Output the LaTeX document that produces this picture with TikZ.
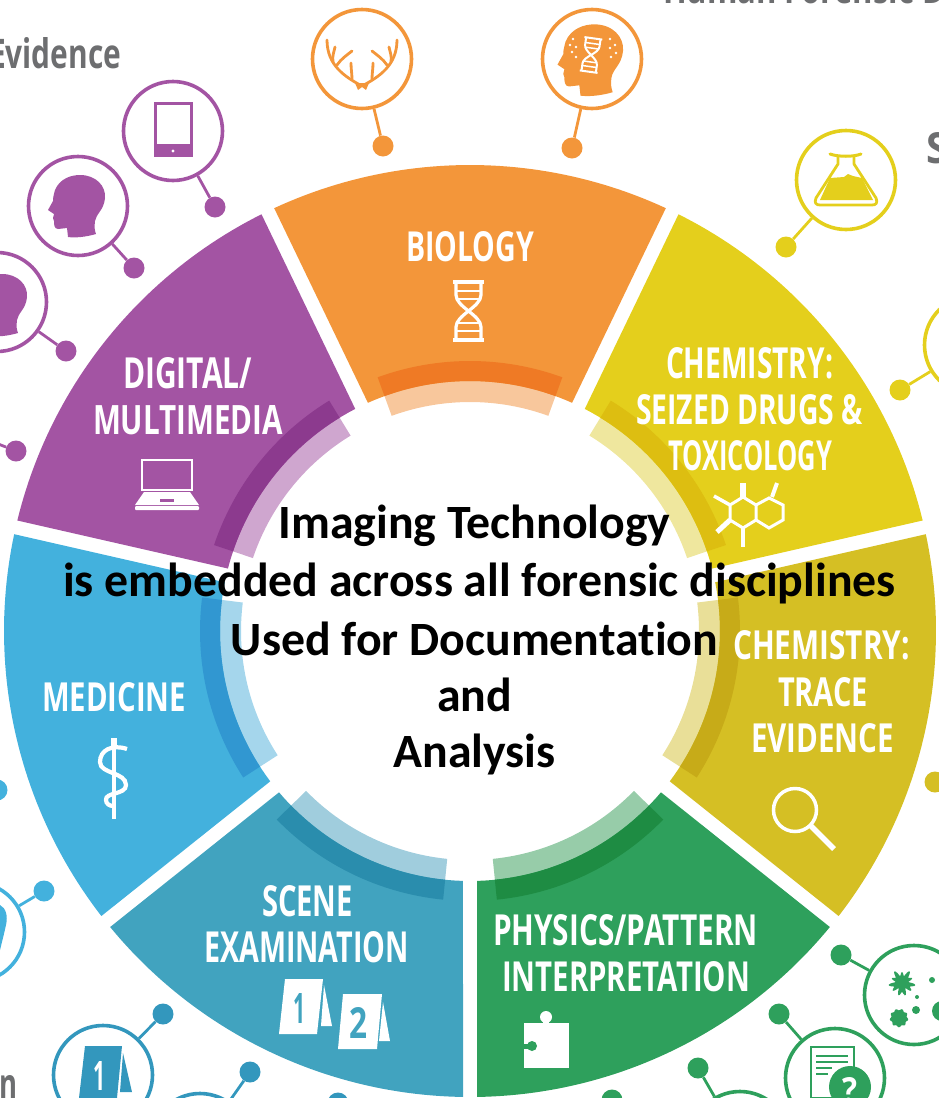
\documentclass[tikz,border=0pt]{standalone}
\usepackage{graphicx}
\usepackage{fontspec}
\newfontfamily\lblfont{Open Sans}
\newfontfamily\hubfont[Ligatures=NoCommon]{Carlito}
\definecolor{cOrange}{HTML}{F3963A}\definecolor{dOrange}{HTML}{EF7A25}\definecolor{pOrange}{HTML}{F8C79C}
\definecolor{cYellow}{HTML}{E4CF1C}\definecolor{dYellow}{HTML}{DDBE11}\definecolor{pYellow}{HTML}{EFE79E}
\definecolor{cOlive}{HTML}{D5BF24}\definecolor{dOlive}{HTML}{C7AB18}\definecolor{pOlive}{HTML}{E9DF98}
\definecolor{cGreen}{HTML}{2EA05C}\definecolor{dGreen}{HTML}{1E8C43}\definecolor{pGreen}{HTML}{97CCA9}
\definecolor{cTeal}{HTML}{41A3BF}\definecolor{dTeal}{HTML}{2A8DAD}\definecolor{pTeal}{HTML}{A0CDDD}
\definecolor{cBlue}{HTML}{43B1DD}\definecolor{dBlue}{HTML}{3197D1}\definecolor{pBlue}{HTML}{A5D6EC}
\definecolor{cPurple}{HTML}{A354A3}\definecolor{dPurple}{HTML}{8C3A8E}\definecolor{pPurple}{HTML}{CFA6CF}
\definecolor{cBadgeTeal}{HTML}{3397BD}
\definecolor{cGrey}{HTML}{6D6E70}
\tikzset{
  badge/.style={circle,draw=#1,line width=3.6pt,minimum size=99pt,inner sep=0pt},
  dotnode/.style={circle,fill=#1,minimum size=21pt,inner sep=0pt},
  link/.style={draw=#1,line width=2.8pt},
  iconline/.style={draw=white,line width=#1},
  textnode/.style={inner sep=0pt,outer sep=0pt,anchor=base west},
  hubtext/.style={inner sep=0pt,align=center,font=\hubfont\bfseries\fontsize{47.8}{58.2}\selectfont}
}
% sector: centre angle, colour
\newcommand{\sector}[2]{%
  \pgfmathsetmacro{\aA}{#1-24.85}\pgfmathsetmacro{\aB}{#1+24.85}%
  \pgfmathsetmacro{\bA}{#1+24.1}\pgfmathsetmacro{\bB}{#1-24.1}%
  \fill[#2] plot[domain=\aA:\aB,samples=50] ({470+466*sin(\x)},{631-466*cos(\x)})
    -- plot[domain=\bA:\bB,samples=30] ({470+250*sin(\x)},{631-250*cos(\x)}) -- cycle;}
% ring band: centre angle, r1, r2, colour
\newcommand{\ringband}[4]{%
  \pgfmathsetmacro{\aA}{#1-20}\pgfmathsetmacro{\aB}{#1+20}%
  \fill[#4] plot[domain=\aA:\aB,samples=30] ({470+#3*sin(\x)},{631-#3*cos(\x)})
    -- plot[domain=\aB:\aA,samples=30] ({470+#2*sin(\x)},{631-#2*cos(\x)}) -- cycle;}
% text fitted to a measured box: name, left, right, top, baseline, colour, text
\newcommand{\fitted}[7]{%
  \pgfmathsetmacro{\fitW}{#3-#2}\pgfmathsetmacro{\fitH}{#5-#4}%
  \node[textnode,text=#6] (#1) at (#2,#5) {\resizebox{\fitW pt}{\fitH pt}{\lblfont\bfseries #7}};}
\newcommand{\headpath}{(-23,-16) .. controls (-18,-28) and (-6,-31) .. (2,-31)
  .. controls (18,-31) and (28,-20) .. (27,-8)
  .. controls (26,4) and (18,8) .. (17,15)
  .. controls (16,22) and (17,25) .. (18,28)
  .. controls (8,31) and (-3,32) .. (-10,31)
  -- (-11,22) -- (-20,23) .. controls (-24,23) and (-24,18) .. (-24,15)
  -- (-25,12) -- (-24,8) -- (-30,4) -- (-25,-5) .. controls (-25,-9) and (-24,-12) .. (-23,-16) -- cycle}
\newcommand{\dnaicon}[2]{%
  \draw[iconline=#1] (-15.5,-29) -- (15.5,-29) (-15.5,29) -- (15.5,29);
  \draw[iconline=#1] (-12.5,-29) -- (-12.5,-16) .. controls (-12.5,-4) and (12.5,4) .. (12.5,16) -- (12.5,29);
  \draw[iconline=#1] (12.5,-29) -- (12.5,-16) .. controls (12.5,-4) and (-12.5,4) .. (-12.5,16) -- (-12.5,29);
  \draw[iconline=#2] (-12,-20) -- (12,-20) (-12,-12) -- (12,-12) (-12,12) -- (12,12) (-12,20) -- (12,20);}
\newcommand{\antlerside}{%
  \draw (360,85) .. controls (346,77) and (327,66) .. (327,40);
  \draw (333,62) .. controls (332,56) and (334,52) .. (335,47);
  \draw (337,65) .. controls (341,59) and (347,55) .. (352,51);
  \draw (352,79) .. controls (352,74) and (351,69) .. (351,63);}
\begin{document}
\begin{tikzpicture}[x=1pt,y=-1pt]
\useasboundingbox (0,0) rectangle (939,1098);
\clip (0,0) rectangle (939,1098);
% pale inner bands
\ringband{0}{229}{252}{pOrange}
\ringband{51.43}{229}{252}{pYellow}
\ringband{102.86}{229}{252}{pOlive}
\ringband{154.29}{229}{252}{pGreen}
\ringband{205.71}{229}{252}{pTeal}
\ringband{257.14}{229}{252}{pBlue}
\ringband{308.57}{229}{252}{pPurple}
% sectors
\sector{0}{cOrange}
\sector{51.43}{cYellow}
\sector{102.86}{cOlive}
\sector{154.29}{cGreen}
\sector{205.71}{cTeal}
\sector{257.14}{cBlue}
\sector{308.57}{cPurple}
% dark bands
\ringband{0}{250}{270}{dOrange}
\ringband{51.43}{250}{270}{dYellow}
\ringband{102.86}{250}{270}{dOlive}
\ringband{154.29}{250}{270}{dGreen}
\ringband{205.71}{250}{270}{dTeal}
\ringband{257.14}{250}{270}{dBlue}
\ringband{308.57}{250}{270}{dPurple}
% sector labels
\fitted{lBio}{406}{534}{231}{261}{white}{BIOLOGY}
\fitted{lDigA}{123}{252}{357}{388}{white}{DIGITAL/}
\fitted{lDigB}{93}{283}{405}{434}{white}{MULTIMEDIA}
\fitted{lChemA}{666}{833}{347}{378}{white}{CHEMISTRY:}
\fitted{lChemB}{636}{863}{394}{424}{white}{SEIZED DRUGS \&}
\fitted{lChemC}{668}{832}{440}{470}{white}{TOXICOLOGY}
\fitted{lTrA}{733}{910}{630}{659}{white}{CHEMISTRY:}
\fitted{lTrB}{778}{868}{677}{706}{white}{TRACE}
\fitted{lTrC}{751}{894}{723}{752}{white}{EVIDENCE}
\fitted{lMed}{42}{186}{682}{711}{white}{MEDICINE}
\fitted{lSceA}{262}{353}{885}{916}{white}{SCENE}
\fitted{lSceB}{204}{409}{931}{962}{white}{EXAMINATION}
\fitted{lPhyA}{493}{758}{914}{945}{white}{PHYSICS/PATTERN}
\fitted{lPhyB}{502}{750}{961}{991}{white}{INTERPRETATION}
% biology DNA
\begin{scope}[shift={(468.5,311)}]\dnaicon{3.2pt}{2.2pt}\end{scope}
% laptop
\draw[iconline=2.2pt] (142,460) rectangle (192,490);
\fill[white] (144,492) -- (190,492) -- (199,505) -- (135,505) -- cycle;
\fill[cPurple] (160,499) rectangle (174,502);
\fill[white,rounded corners=1pt] (135,506) rectangle (199,510);
% caduceus
\fill[white] (110.5,738) rectangle (117,746);
\fill[white] (111.5,746) rectangle (116,819);
\draw[iconline=4.2pt] (127,749) .. controls (112,744) and (100,750) .. (100,762)
  .. controls (100,774) and (126,772) .. (126,785) .. controls (126,795) and (105,792) .. (106,800)
  .. controls (106,804) and (110,806) .. (113,806);
% molecule
\draw[iconline=3pt] (743,497) -- (756,505) -- (756,520) -- (743,528) -- (730,520) -- (730,505) -- cycle;
\draw[iconline=3pt] (756,505) -- (769,498) -- (783,505) -- (783,520) -- (769,528) -- (756,520);
\draw[iconline=6pt] (743,497) -- (743,483);
\draw[iconline=3.5pt] (730,505) -- (714,496);
\draw[iconline=5pt] (730,520) -- (717,532);
\draw[iconline=4pt] (743,528) -- (743,547);
\draw[iconline=4pt] (772,497) -- (777,483);
% magnifier
\draw[white,line width=3.5pt] (795,810) circle[radius=21.5];
\draw[iconline=5.5pt] (811,826) -- (834,849);
% evidence tents
\fill[white] (285,979) -- (323,979) -- (317,1034) -- (279,1034) -- cycle;
\fill[white] (324,985) -- (332,1026) -- (321,1026) -- cycle;
\fill[white] (343,994) -- (382,994) -- (377,1049) -- (338,1049) -- cycle;
\fill[white] (383,1002) -- (390,1041) -- (379,1041) -- cycle;
\fitted{tOne}{293}{305}{993}{1023}{cTeal}{1}
\fitted{tTwo}{349}{367}{1007}{1038}{cTeal}{2}
% puzzle
\fill[white] (524,1023) rectangle (569,1068);
\fill[white] (546,1017) circle[radius=6];
\fill[white] (543,1018) rectangle (549,1024);
\fill[cGreen] (532,1046) circle[radius=5];
\fill[cGreen] (523,1043.5) rectangle (530,1048.5);
% badges and dots
\node[badge=cOrange] (bAntler) at (362,59) {};
\node[dotnode=cOrange] (dAntler) at (383,146) {};
\draw[link=cOrange] (bAntler) -- (dAntler);
\node[badge=cOrange] (bBrain) at (592,59) {};
\node[dotnode=cOrange] (dBrain) at (572,148) {};
\draw[link=cOrange] (bBrain) -- (dBrain);
\node[badge=cPurple] (bTablet) at (173,131) {};
\node[dotnode=cPurple] (dTablet) at (215,207) {};
\draw[link=cPurple] (bTablet) -- (dTablet);
\node[badge=cPurple] (bHeadA) at (78,206) {};
\node[dotnode=cPurple] (dHeadA) at (134,268) {};
\draw[link=cPurple] (bHeadA) -- (dHeadA);
\node[badge=cPurple] (bHeadB) at (-3,302) {};
\node[dotnode=cPurple] (dHeadB) at (66,351) {};
\draw[link=cPurple] (bHeadB) -- (dHeadB);
\coordinate (cPurpleEnd) at (-22,436);
\node[dotnode=cPurple] (dPurpleLow) at (16,451) {};
\draw[link=cPurple] (cPurpleEnd) -- (dPurpleLow);
\node[badge=cYellow] (bFlask) at (846,180) {};
\node[dotnode=cYellow] (dFlask) at (786,247) {};
\draw[link=cYellow] (bFlask) -- (dFlask);
\node[badge=cYellow] (bRight) at (974,345) {};
\node[dotnode=cYellow] (dRight) at (900,390) {};
\draw[link=cYellow] (bRight) -- (dRight);
\node[dotnode=cOlive] (dOlive) at (935,782) {};
\node[dotnode=cBlue] (dBlueA) at (-3,790) {};
\node[badge=cBlue] (bBlue) at (-25,932) {};
\node[dotnode=cBlue] (dBlueB) at (44,891) {};
\draw[link=cBlue] (bBlue) -- (dBlueB);
\node[badge=cBadgeTeal] (bTent) at (103,1075) {};
\node[dotnode=cBadgeTeal] (dTent) at (163,1014) {};
\draw[link=cBadgeTeal] (bTent) -- (dTent);
\node[badge=cBadgeTeal] (bLow) at (200,1143) {};
\node[dotnode=cBadgeTeal] (dLow) at (250,1072) {};
\draw[link=cBadgeTeal] (bLow) -- (dLow);
\node[dotnode=cBadgeTeal] (dTealBottom) at (338,1103) {};
\node[dotnode=cGreen] (dGreenBottom) at (612,1100) {};
\node[badge=cGreen] (bGreenLow) at (740,1141) {};
\node[dotnode=cGreen] (dGreenLow) at (698,1068) {};
\draw[link=cGreen] (bGreenLow) -- (dGreenLow);
\node[badge=cGreen] (bDoc) at (835,1078) {};
\node[dotnode=cGreen] (dDoc) at (779,1014) {};
\draw[link=cGreen] (bDoc) -- (dDoc);
\node[badge=cGreen] (bSplat) at (914,995) {};
\node[dotnode=cGreen] (dSplat) at (841,955) {};
\draw[link=cGreen] (bSplat) -- (dSplat);
% tablet
\draw[cPurple,line width=3pt] (155.5,103.5) rectangle (191.5,155);
\fill[cPurple] (154,144) rectangle (193,157);
\fill[white] (173,151) circle[radius=1.6];
% heads
\begin{scope}[shift={(78,206)}]\fill[cPurple] \headpath;\end{scope}
\begin{scope}[shift={(0,305)}]\fill[cPurple] \headpath;\end{scope}
% blue badge remnant
\fill[cBlue] (0,905) .. controls (6,908) and (8,916) .. (6,925) .. controls (4,934) and (2,942) .. (0,950) -- cycle;
% antlers
\begin{scope}[cOrange,line width=2.8pt,line cap=round]
\antlerside
\begin{scope}[xshift=724pt,xscale=-1]\antlerside\end{scope}
\fill (355,83) -- (369,83) -- (366,90) -- (362,87) -- (358,90) -- cycle;
\end{scope}
% brain head
\begin{scope}[shift={(592,60)},scale=1.15]\fill[cOrange] \headpath;\end{scope}
\begin{scope}[shift={(591,55)},scale=.58,rotate=-8]\dnaicon{2pt}{1.5pt}\end{scope}
\foreach \px/\py in {573/39,570/45,576/47,572/52,576/57,610/39,615/45,610/48,616/53,611/57}
  \fill[white] (\px,\py) circle[radius=1.3];
% flask
\draw[cYellow,line width=2.8pt,line cap=round,line join=round]
  (838,156) -- (838,164) -- (816,198)
  .. controls (814,203) and (816,205) .. (820,205) -- (872,205)
  .. controls (876,205) and (878,203) .. (876,198) -- (854,164) -- (854,156);
\draw[cYellow,line width=3pt,line cap=round] (830,154) .. controls (838,157) and (854,157) .. (861,154);
\fill[cYellow] (830,178) -- (844,177) -- (848,174) -- (853,176) -- (862,178) -- (873,200) -- (820,200) -- cycle;
% document
\draw[cGreen,line width=2pt] (811,1047) rectangle (854,1098);
\draw[cGreen,line width=2.4pt] (816,1056) -- (848,1056) (816,1062) -- (848,1062) (816,1068) -- (832,1068) (816,1074) -- (828,1074);
\fill[cGreen] (850,1087) circle[radius=21];
\fitted{qMark}{842}{857}{1077}{1103}{white}{?}
% teal tent in badge
\fill[cBadgeTeal] (85,1046) -- (122,1046) -- (117,1098) -- (79,1098) -- cycle;
\fill[cBadgeTeal] (123,1053) -- (132,1092) -- (120,1092) -- cycle;
\fitted{tBadge}{93}{105}{1061}{1090}{white}{1}
% splatter
\fill[cGreen] plot[domain=0:360,samples=80,smooth] ({902+(10+1.5*sin(5*\x)+2.5*sin(11*\x))*cos(\x)},{983+(10+1.5*sin(5*\x)+2.5*sin(11*\x))*sin(\x)}) -- cycle;
\fill[cGreen] plot[domain=0:360,samples=60,smooth] ({899+(8.5+.8*sin(9*\x))*cos(\x)},{1018+(8.5+.8*sin(9*\x))*sin(\x)}) -- cycle;
\foreach \px/\py/\pr in {932/980/3,917/997/2,916/1010/4,942/1011/10}
  \fill[cGreen] (\px,\py) circle[radius=\pr];
% page fragments
\fitted{tEvid}{-11}{121}{37}{68}{cGrey}{Evidence}
\fitted{tS}{926}{948}{132}{163}{cGrey}{S}
\fitted{tN}{0}{18}{1075}{1098}{cGrey}{n}
\fitted{tHuman}{663}{945}{-28}{3}{cGrey}{Human Forensic D}
% hub text
\node[hubtext,text=black] (hubText) at (474.5,640) {Imaging Technology\\\hspace*{10pt}is embedded across all forensic disciplines\\Used for Documentation\\[-2pt]and\\[-2pt]Analysis};
\end{tikzpicture}
\end{document}
